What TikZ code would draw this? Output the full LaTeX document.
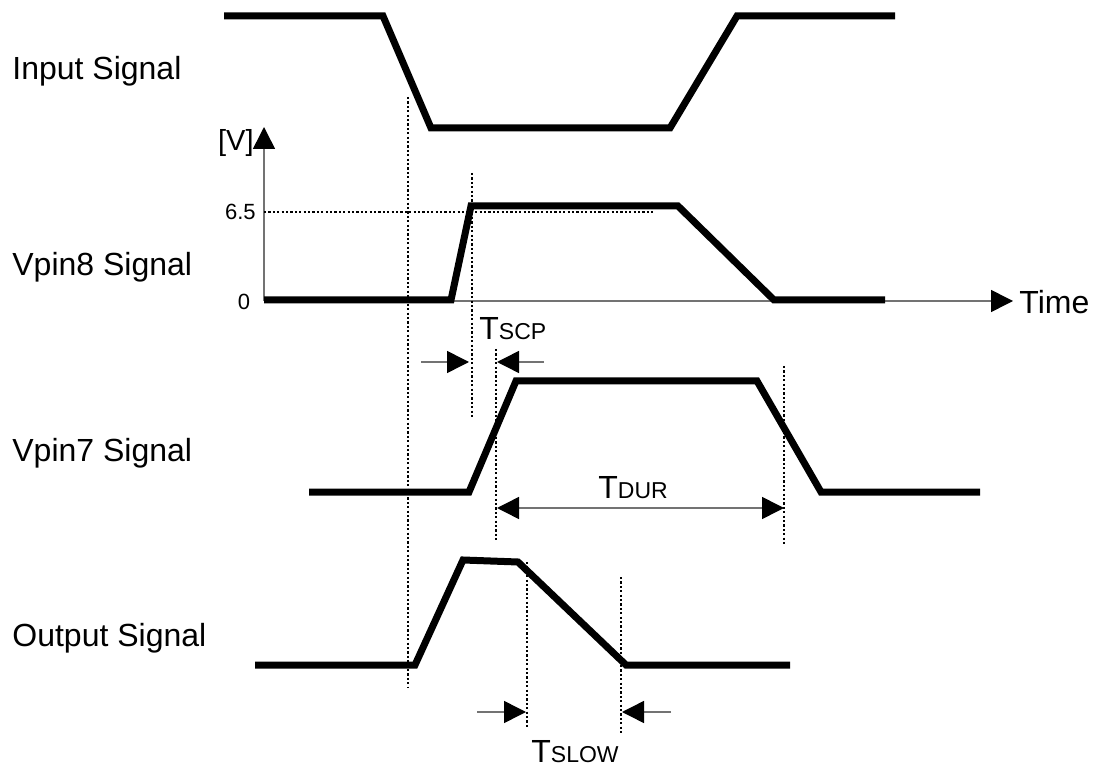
\documentclass[tikz,border=0pt]{standalone}
\usepackage{fontspec}
\setmainfont{Liberation Sans}
\usetikzlibrary{arrows.meta}
\begin{document}
\begin{tikzpicture}[x=0.5pt,y=-0.5pt,
  sig/.style={line width=3.5pt, line join=miter},
  dots/.style={line width=1.1pt, dash pattern=on 1.1pt off 1.1pt},
  thinline/.style={line width=0.75pt, draw=black!55},
  axisarrow/.style={thinline, -{Triangle[length=11pt,width=11pt,black]}},
  dimarrow/.style={thinline, -{Triangle[length=11pt,width=11pt,black]}},
  dimboth/.style={thinline, {Triangle[length=11pt,width=11pt,black]}-{Triangle[length=11pt,width=11pt,black]}},
  lbl/.style={anchor=base west, inner sep=0pt, font=\fontsize{16}{19}\selectfont},
  small/.style={inner sep=0pt, font=\fontsize{11}{13}\selectfont},
  tlabel/.style={anchor=base west, inner sep=0pt, font=\fontsize{16}{19}\selectfont},
]
\useasboundingbox (0,0) rectangle (1096,769);
\newcommand{\subsz}{\fontsize{11.5}{13}\selectfont}

% labels
\node[lbl] (lin) at (12,80) {Input Signal};
\node[lbl] (l8) at (12,276) {Vpin8 Signal};
\node[lbl] (l7) at (12,461) {Vpin7 Signal};
\node[lbl] (lout) at (12,646) {Output Signal};

% axes
\coordinate (o) at (264,301);
\coordinate (ytop) at (264,127);
\coordinate (xend) at (1013,301);
\draw[axisarrow] (o) -- (ytop);
\draw[axisarrow] (o) -- (xend);
\node[inner sep=0pt, anchor=east, font=\fontsize{14.5}{17}\selectfont] (vlab) at (254,143) {[V]};
\node[inner sep=0pt, anchor=west, font=\fontsize{16}{19}\selectfont] (time) at (1019,302) {Time};
\node[small, anchor=east] (v65) at (256,212) {6.5};
\node[small] (v0) at (244,302) {0};

% 6.5 reference
\coordinate (r65a) at (264,212);
\coordinate (r65b) at (655,212);
\draw[dots] (r65a) -- (r65b);

% dotted verticals
\coordinate (d1a) at (408,97);  \coordinate (d1b) at (408,688);
\coordinate (d2a) at (472,173); \coordinate (d2b) at (472,418);
\coordinate (d3a) at (496,349); \coordinate (d3b) at (496,540);
\coordinate (d4a) at (784,366); \coordinate (d4b) at (784,546);
\coordinate (d5a) at (527,562); \coordinate (d5b) at (527,728);
\coordinate (d6a) at (621,577); \coordinate (d6b) at (621,733);
\foreach \i in {1,...,6} \draw[dots] (d\i a) -- (d\i b);

% Input signal
\coordinate (i1) at (224,16);
\coordinate (i2) at (383,16);
\coordinate (i3) at (431,128);
\coordinate (i4) at (670,128);
\coordinate (i5) at (737,16);
\coordinate (i6) at (895,16);
\draw[sig] (i1) -- (i2) -- (i3) -- (i4) -- (i5) -- (i6);

% Vpin8 signal
\coordinate (a1) at (264,300);
\coordinate (a2) at (451,300);
\coordinate (a3) at (471,206);
\coordinate (a4) at (678,206);
\coordinate (a5) at (774,300);
\coordinate (a6) at (885,300);
\draw[sig] (a1) -- (a2) -- (a3) -- (a4) -- (a5) -- (a6);

% Vpin7 signal
\coordinate (b1) at (309,492);
\coordinate (b2) at (469,492);
\coordinate (b3) at (516,381);
\coordinate (b4) at (757,381);
\coordinate (b5) at (821,492);
\coordinate (b6) at (980,492);
\draw[sig] (b1) -- (b2) -- (b3) -- (b4) -- (b5) -- (b6);

% Output signal
\coordinate (c1) at (255,665);
\coordinate (c2) at (415,665);
\coordinate (c3) at (463,560);
\coordinate (c4) at (518,562);
\coordinate (c5) at (626,665);
\coordinate (c6) at (790,665);
\draw[sig] (c1) -- (c2) -- (c3) -- (c4) -- (c5) -- (c6);

% TSCP
\coordinate (s1) at (421,362); \coordinate (s2) at (469,362);
\coordinate (s3) at (544,362); \coordinate (s4) at (497,362);
\draw[dimarrow] (s1) -- (s2);
\draw[dimarrow] (s3) -- (s4);
\node[tlabel] (tscp) at (479,340) {T\subsz SCP};

% TDUR
\coordinate (u1) at (497,508); \coordinate (u2) at (784,508);
\draw[dimboth] (u1) -- (u2);
\node[tlabel] (tdur) at (598,498) {T\subsz DUR};

% TSLOW
\coordinate (w1) at (477,712); \coordinate (w2) at (526,712);
\coordinate (w3) at (671,712); \coordinate (w4) at (622,712);
\draw[dimarrow] (w1) -- (w2);
\draw[dimarrow] (w3) -- (w4);
\node[tlabel] (tslow) at (531,762) {T\subsz SLOW};
\end{tikzpicture}
\end{document}
